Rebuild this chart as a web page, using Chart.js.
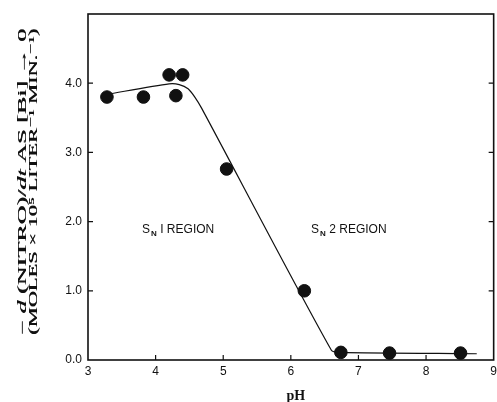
<!DOCTYPE html>
<html>
<head>
<meta charset="utf-8">
<script src="https://cdn.jsdelivr.net/npm/chart.js@4"></script>
<style>
  html, body { margin: 0; padding: 0; background: #fff; overflow: hidden; }
  #wrap { width: 497px; height: 402px; overflow: hidden; }
</style>
</head>
<body>
<div id="wrap"><canvas id="chart" width="501" height="402"></canvas></div>
<script>
// measured points (pH, rate)
const pointPH   = [3.28, 3.82, 4.20, 4.40, 4.30, 5.05, 6.20, 6.74, 7.46, 8.51];
const pointRate = [3.80, 3.80, 4.12, 4.12, 3.82, 2.76, 1.00, 0.11, 0.10, 0.10];

// hand-drawn fitted curve
const curvePH   = [3.28, 4.20, 4.35, 4.48, 4.58, 4.68, 6.60, 6.72, 8.75];
const curveRate = [3.84, 3.99, 3.98, 3.92, 3.80, 3.64, 0.14, 0.11, 0.09];

const xTicks = [3, 4, 5, 6, 7, 8, 9];
const yTicks = [0, 1, 2, 3, 4];

const regionLabels = [
  { sub: 'N', rest: ' I REGION', x: 3.8, y: 1.83 },
  { sub: 'N', rest: ' 2 REGION', x: 6.3, y: 1.83 }
];

const ink = '#111';

// frame, inward ticks, region labels, axis titles
const decorations = {
  id: 'decorations',
  afterDraw(chart) {
    const ctx = chart.ctx;
    const a = chart.chartArea;
    const xs = chart.scales.x, ys = chart.scales.y;
    ctx.save();
    ctx.strokeStyle = ink;
    ctx.lineWidth = 1.6;
    ctx.strokeRect(a.left, a.top, a.right - a.left, a.bottom - a.top);

    ctx.lineWidth = 1.2;
    ctx.beginPath();
    xTicks.slice(1, -1).forEach(v => {
      const px = xs.getPixelForValue(v);
      ctx.moveTo(px, a.bottom);
      ctx.lineTo(px, a.bottom - 5);
    });
    yTicks.slice(1).forEach(v => {
      const py = ys.getPixelForValue(v);
      ctx.moveTo(a.left, py);
      ctx.lineTo(a.left + 5, py);
      ctx.moveTo(a.right, py);
      ctx.lineTo(a.right - 5, py);
    });
    ctx.stroke();

    // S_N region labels
    ctx.fillStyle = ink;
    ctx.textBaseline = 'alphabetic';
    regionLabels.forEach(r => {
      let px = xs.getPixelForValue(r.x);
      const py = ys.getPixelForValue(r.y);
      ctx.font = '12px "Liberation Sans", Arial, sans-serif';
      ctx.fillText('S', px, py);
      px += ctx.measureText('S').width + 1;
      ctx.font = 'bold 8px "Liberation Sans", Arial, sans-serif';
      ctx.fillText(r.sub, px, py + 3);
      px += ctx.measureText(r.sub).width;
      ctx.font = '12px "Liberation Sans", Arial, sans-serif';
      ctx.fillText(r.rest, px, py);
    });

    // x title
    ctx.font = 'bold 14px "Liberation Serif", "DejaVu Serif", serif';
    ctx.textAlign = 'center';
    ctx.fillText('pH', (a.left + a.right) / 2 + 5, 400);

    // y title, two rotated lines with italic parts
    const serif = '"Liberation Serif", "DejaVu Serif", serif';
    const line1 = [
      ['\u2212', false], [' d', true], [' (NITRO)/', false], ['dt', true], [' AS [Bi] \u2192 0', false]
    ];
    const line2 = [['(MOLES \u00d7 10\u2075 LITER\u207b\u00b9 MIN.\u207b\u00b9)', false]];
    const cy = 182;
    const target = 306;
    [[line1, 23], [line2, 34]].forEach(([segs, cx]) => {
      ctx.save();
      ctx.translate(cx, cy);
      ctx.rotate(-Math.PI / 2);
      let total = 0;
      segs.forEach(([t, it]) => {
        ctx.font = (it ? 'italic ' : '') + '12px ' + serif;
        total += ctx.measureText(t).width;
      });
      const k = target / total;
      ctx.scale(k, 1);
      let px = -total / 2;
      ctx.textAlign = 'left';
      ctx.textBaseline = 'middle';
      segs.forEach(([t, it]) => {
        ctx.font = (it ? 'italic ' : '') + '12px ' + serif;
        ctx.fillText(t, px, 0);
        ctx.fillText(t, px + 0.4, 0);
        px += ctx.measureText(t).width;
      });
      ctx.restore();
    });
    ctx.restore();
  }
};

new Chart(document.getElementById('chart'), {
  type: 'scatter',
  data: {
    datasets: [
      {
        label: 'points',
        data: pointPH.map((x, i) => ({ x: x, y: pointRate[i] })),
        backgroundColor: ink,
        borderColor: ink,
        pointRadius: 6.3,
        pointHoverRadius: 6.3,
        showLine: false
      },
      {
        label: 'curve',
        data: curvePH.map((x, i) => ({ x: x, y: curveRate[i] })),
        showLine: true,
        borderColor: ink,
        borderWidth: 1.2,
        pointRadius: 0,
        tension: 0.25,
        fill: false
      }
    ]
  },
  options: {
    responsive: false,
    animation: false,
    events: [],
    layout: { padding: { top: 14, right: 0, left: 0, bottom: 0 } },
    plugins: { legend: { display: false }, tooltip: { enabled: false } },
    scales: {
      x: {
        type: 'linear',
        min: 3,
        max: 9,
        afterBuildTicks: s => { s.ticks = xTicks.map(v => ({ value: v })); },
        afterFit: s => { s.height = 42; },
        grid: { display: false, drawTicks: false },
        border: { display: false },
        ticks: {
          color: ink,
          padding: 4,
          maxRotation: 0,
          font: { family: '"Liberation Sans", Arial, sans-serif', size: 12 },
          callback: v => String(v)
        }
      },
      y: {
        type: 'linear',
        min: 0,
        max: 5,
        afterBuildTicks: s => { s.ticks = yTicks.map(v => ({ value: v })); },
        afterFit: s => { s.width = 88; },
        grid: { display: false, drawTicks: false },
        border: { display: false },
        ticks: {
          color: ink,
          padding: 6,
          font: { family: '"Liberation Sans", Arial, sans-serif', size: 12 },
          callback: v => v.toFixed(1)
        }
      }
    }
  },
  plugins: [decorations]
});
</script>
</body>
</html>
